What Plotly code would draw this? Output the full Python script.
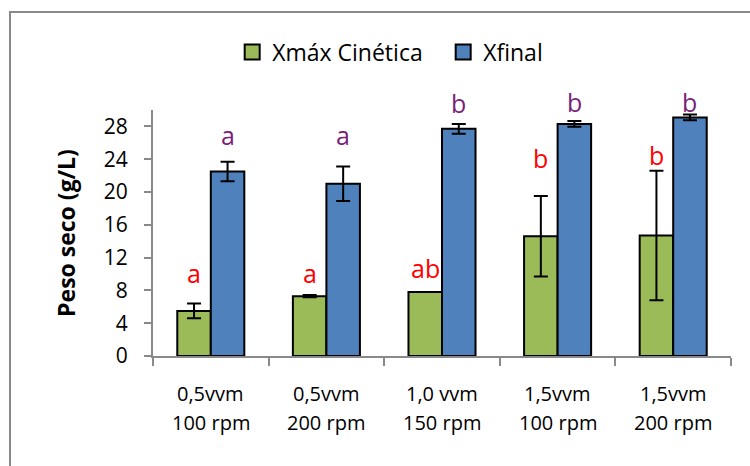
import plotly.graph_objects as go

categories = ["c1", "c2", "c3", "c4", "c5"]
line1 = ["0,5vvm", "0,5vvm", "1,0 vvm", "1,5vvm", "1,5vvm"]
line2 = ["100 rpm", "200 rpm", "150 rpm", "100 rpm", "200 rpm"]

xmax_vals = [5.5, 7.3, 7.8, 14.6, 14.7]
xmax_err = [0.9, 0.15, 0.0, 4.9, 7.9]
xfinal_vals = [22.5, 21.0, 27.7, 28.3, 29.1]
xfinal_err = [1.2, 2.1, 0.6, 0.35, 0.35]

xmax_letters = ["a", "a", "ab", "b", "b"]
xfinal_letters = ["a", "a", "b", "b", "b"]
# label heights (axis units)
xmax_letter_y = [10.1, 10.1, 10.7, 24.1, 24.5]
xfinal_letter_y = [26.9, 26.9, 30.9, 31.0, 31.0]

yticks = [0, 4, 8, 12, 16, 20, 24, 28]
YMAX = 30
PX_PER_UNIT = 246 / YMAX

FONT = "Open Sans, Liberation Sans, Arial"
GREEN = "#9BBB59"
BLUE = "#4F81BD"
RED = "#FF0000"
PURPLE = "#7A1F7A"
GRAY = "#898989"

fig = go.Figure()
fig.add_trace(go.Bar(
    name="Xmáx Cinética", x=categories, y=xmax_vals, showlegend=False,
    marker=dict(color=GREEN, line=dict(color="black", width=2)),
    error_y=dict(type="data", array=xmax_err, color="black", thickness=2, width=7),
))
fig.add_trace(go.Bar(
    name="Xfinal", x=categories, y=xfinal_vals, showlegend=False,
    marker=dict(color=BLUE, line=dict(color="black", width=2)),
    error_y=dict(type="data", array=xfinal_err, color="black", thickness=2, width=7),
))
# legend entries
for name, col in [("Xmáx Cinética", GREEN), ("Xfinal", BLUE)]:
    fig.add_trace(go.Scatter(
        name=name, x=[None], y=[None], mode="markers",
        marker=dict(symbol="square", size=15, color=col, line=dict(color="black", width=2)),
    ))


def letter_ann(c, t, y, shift, color):
    yy = min(y, YMAX)
    return dict(x=c, y=yy, xref="x", yref="y", text=t, showarrow=False,
                xshift=shift, yshift=(y - yy) * PX_PER_UNIT, yanchor="middle",
                font=dict(family=FONT, size=25, color=color))


annotations = []
for c, t, y in zip(categories, xmax_letters, xmax_letter_y):
    annotations.append(letter_ann(c, t, y, -16.75, RED))
for c, t, y in zip(categories, xfinal_letters, xfinal_letter_y):
    annotations.append(letter_ann(c, t, y, 16.75, PURPLE))
for c, a, b in zip(categories, line1, line2):
    annotations.append(dict(x=c, y=-0.152, xref="x", yref="paper", text=a, showarrow=False,
                            yanchor="middle", font=dict(family=FONT, size=20, color="black")))
    annotations.append(dict(x=c, y=-0.272, xref="x", yref="paper", text=b, showarrow=False,
                            yanchor="middle", font=dict(family=FONT, size=20, color="black")))

fig.update_layout(
    width=750, height=466,
    margin=dict(l=153, r=19, t=110, b=110),
    paper_bgcolor="white", plot_bgcolor="white",
    barmode="group", bargap=0.42, bargroupgap=0,
    font=dict(family=FONT, color="black"),
    showlegend=True,
    legend=dict(orientation="h", x=0.137, xanchor="left", y=1.236, yanchor="middle",
                font=dict(family=FONT, size=23, color="black"),
                bgcolor="rgba(0,0,0,0)", itemwidth=30, traceorder="normal",
                entrywidth=166, entrywidthmode="pixels"),
    annotations=annotations,
    shapes=[dict(type="rect", xref="paper", yref="paper", x0=-0.2474, x1=1.06,
                 y0=-0.55, y1=1.398, line=dict(color=GRAY, width=2), layer="below")],
)
fig.update_xaxes(
    showline=True, linecolor=GRAY, linewidth=2,
    ticks="outside", tickson="boundaries", ticklen=8, tickcolor=GRAY, tickwidth=2,
    showticklabels=False, showgrid=False, zeroline=False,
)
fig.update_yaxes(
    range=[0, YMAX], tickvals=yticks, ticktext=[str(v) for v in yticks],
    showline=True, linecolor=GRAY, linewidth=2,
    ticks="outside", ticklen=7, tickcolor=GRAY, tickwidth=2,
    ticklabelstandoff=12,
    tickfont=dict(family=FONT, size=21, color="black"),
    showgrid=False, zeroline=False,
    title=dict(text="<b>Peso seco (g/L)</b>", standoff=22,
               font=dict(family=FONT, size=23, color="black")),
)

fig.write_html("out.html")
